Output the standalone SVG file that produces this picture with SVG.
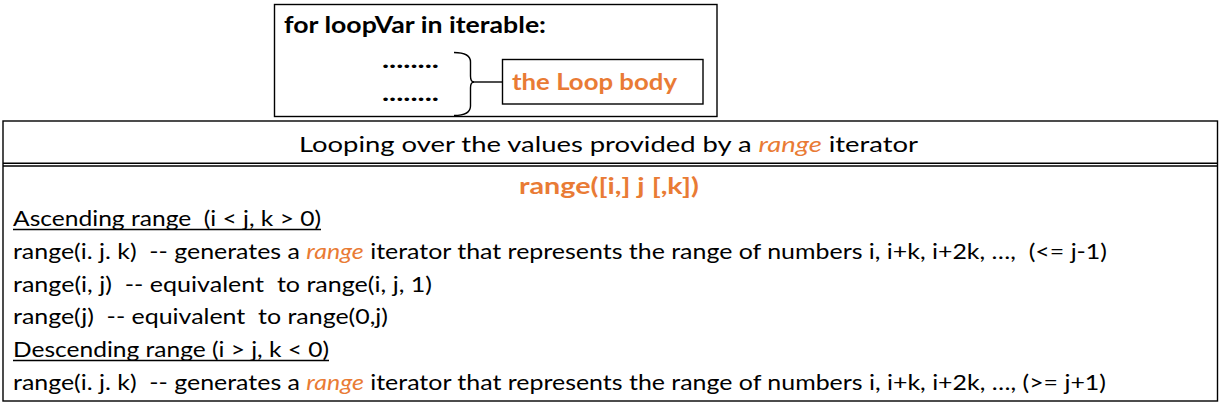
<svg xmlns="http://www.w3.org/2000/svg" width="1219" height="411" viewBox="0 0 1219 411">
<style>
.box{fill:#fff;stroke:#000;stroke-width:1.4}
.ln{fill:none;stroke:#000;stroke-width:1.4}
.t{font-family:Lato,"Liberation Sans",Arial,sans-serif;font-size:22px;fill:#000;white-space:pre}
.b{font-weight:bold}
.o{fill:#E97B35}
.i{font-style:italic}
.ul{stroke:#000;stroke-width:1.5}
</style>
<rect width="1219" height="411" fill="#fff"/>
<g id="loop-syntax">
<rect class="box" x="274.5" y="4.5" width="442.5" height="112"/>
<text class="t b" x="284" y="33" textLength="262" lengthAdjust="spacingAndGlyphs">for loopVar in iterable:</text>
<text class="t b" x="382" y="68" textLength="57" lengthAdjust="spacingAndGlyphs">........</text>
<text class="t b" x="382" y="101" textLength="57" lengthAdjust="spacingAndGlyphs">........</text>
</g>
<g id="connectors">
<path class="ln" d="M454,52.5 Q470.5,52.5 470.5,62 L470.5,76 Q470.5,82 474,82 Q470.5,82 470.5,88 L470.5,106 Q470.5,115.5 454,115.5"/>
<line class="ln" x1="473" y1="82" x2="502" y2="82"/>
</g>
<g id="loop-body">
<rect class="box" x="502.5" y="59.5" width="200.5" height="44.5"/>
<text class="t b o" x="512" y="90" textLength="165" lengthAdjust="spacingAndGlyphs">the Loop body</text>
</g>
<g id="range-table">
<rect class="box" x="3" y="121" width="1214.5" height="280"/>
<line class="ln" x1="3" y1="163.3" x2="1217.5" y2="163.3" stroke-width="1.2"/>
<line class="ln" x1="3" y1="166" x2="1217.5" y2="166" stroke-width="1.2"/>
<text class="t" x="299" y="152" textLength="619" lengthAdjust="spacingAndGlyphs">Looping over the values provided by a <tspan class="o i">range</tspan> iterator</text>
<text class="t b o" x="519" y="194" textLength="180" lengthAdjust="spacingAndGlyphs">range([i,] j [,k])</text>
<text class="t" x="13" y="226" textLength="308" lengthAdjust="spacingAndGlyphs">Ascending range  (i &lt; j, k &gt; 0)</text>
<line class="ul" x1="13" y1="229.5" x2="321" y2="229.5"/>
<text class="t" x="13" y="259" textLength="1094" lengthAdjust="spacingAndGlyphs">range(i. j. k)  -- generates a <tspan class="o i">range</tspan> iterator that represents the range of numbers i, i+k, i+2k, …,  (&lt;= j-1)</text>
<text class="t" x="13" y="292" textLength="419" lengthAdjust="spacingAndGlyphs">range(i, j)  -- equivalent  to range(i, j, 1)</text>
<text class="t" x="13" y="324" textLength="375" lengthAdjust="spacingAndGlyphs">range(j)  -- equivalent  to range(0,j)</text>
<text class="t" x="13" y="357" textLength="316" lengthAdjust="spacingAndGlyphs">Descending range (i &gt; j, k &lt; 0)</text>
<line class="ul" x1="13" y1="360.5" x2="329" y2="360.5"/>
<text class="t" x="13" y="390" textLength="1093" lengthAdjust="spacingAndGlyphs">range(i. j. k)  -- generates a <tspan class="o i">range</tspan> iterator that represents the range of numbers i, i+k, i+2k, …, (&gt;= j+1)</text>
</g>
</svg>
